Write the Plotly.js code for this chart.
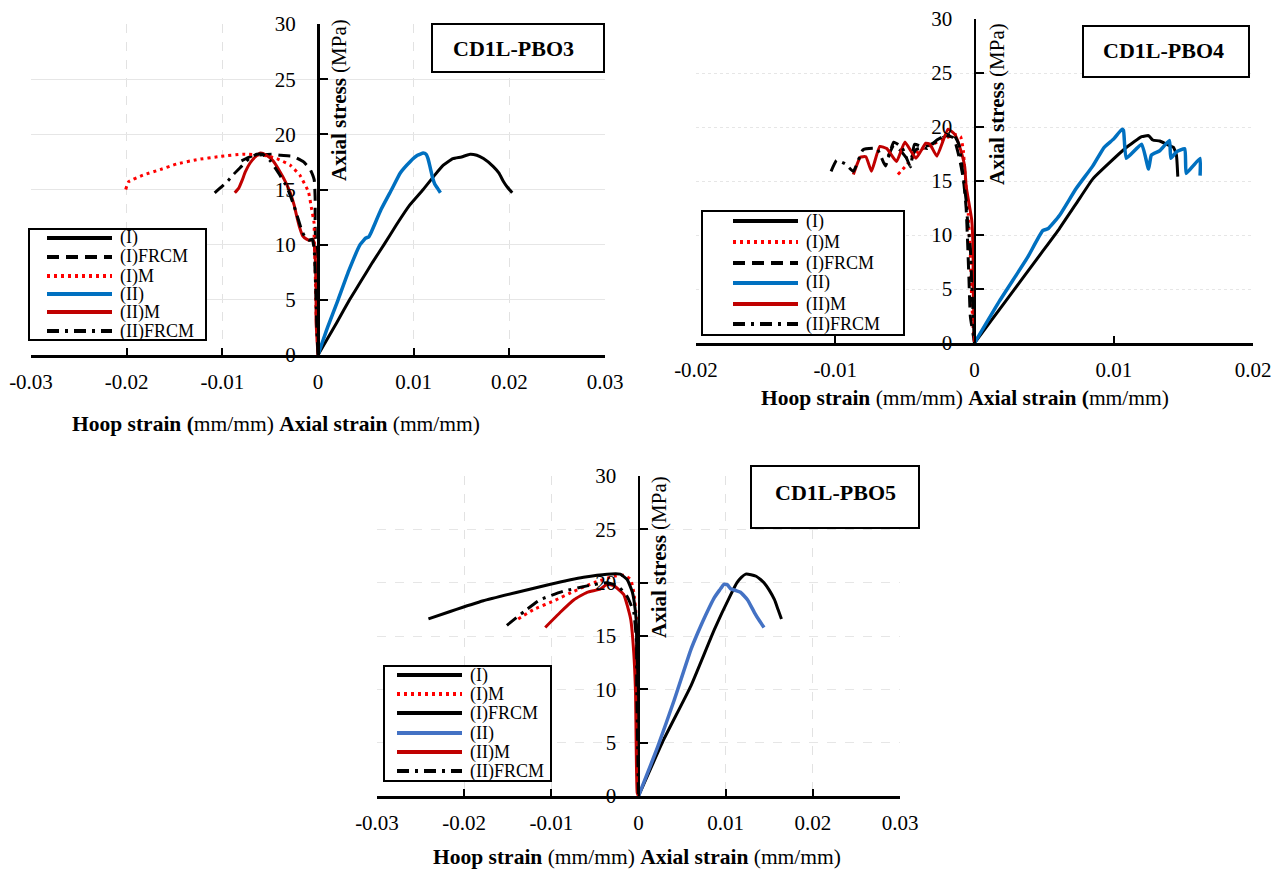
<!DOCTYPE html>
<html>
<head>
<meta charset="utf-8">
<script src="https://cdn.plot.ly/plotly-3.0.1.min.js"></script>
<style>
  html, body { margin: 0; padding: 0; background: #ffffff; }
  #chart { width: 1282px; height: 870px; }
</style>
</head>
<body>
<div id="chart"></div>
<script>
// ---------- tick values and labels ----------
const strainTicks3 = [-0.03, -0.02, -0.01, 0, 0.01, 0.02, 0.03];
const strainTickText3 = ['-0.03', '-0.02', '-0.01', '0', '0.01', '0.02', '0.03'];
const strainTicks2 = [-0.02, -0.01, 0, 0.01, 0.02];
const strainTickText2 = ['-0.02', '-0.01', '0', '0.01', '0.02'];
const stressTicks = [0, 5, 10, 15, 20, 25, 30];
const stressTickText = ['0', '5', '10', '15', '20', '25', '30'];

// ---------- CD1L-PBO3 ----------
const pbo3Legend = ['(I)', '(I)FRCM', '(I)M', '(II)', '(II)M', '(II)FRCM'];
const pbo3_I_x = [0, 0.0010, 0.0020, 0.0033, 0.0045, 0.0057, 0.0069, 0.0082, 0.0096, 0.0110, 0.0122, 0.0131, 0.0141, 0.0150, 0.0159, 0.0166, 0.0173, 0.0183, 0.0189, 0.0194, 0.0198, 0.0203];
const pbo3_I_y = [0, 1.5, 3.0, 5.0, 6.7, 8.4, 10.0, 11.8, 13.6, 15.0, 16.3, 17.2, 17.8, 17.95, 18.2, 18.1, 17.8, 17.1, 16.5, 15.7, 15.2, 14.7];
const pbo3_IFRCM_x = [-0.0080, -0.0070, -0.0058, -0.0048, -0.0039, -0.0026, -0.0015, -0.0008, -0.0004, -0.0003, -0.0003, -0.0002, -0.0001, 0];
const pbo3_IFRCM_y = [17.6, 18.0, 18.15, 18.2, 18.1, 18.0, 17.5, 16.8, 15.9, 14.3, 11.9, 8.0, 4.0, 0];
const pbo3_IM_x = [-0.0201, -0.0198, -0.0183, -0.0165, -0.0148, -0.0127, -0.0102, -0.0078, -0.0057, -0.0043, -0.0029, -0.0019, -0.0010, -0.0007, -0.0004, -0.0004, -0.0003, -0.0002, 0];
const pbo3_IM_y = [15.0, 15.7, 16.3, 16.8, 17.3, 17.7, 18.0, 18.2, 18.1, 17.8, 17.2, 16.3, 14.8, 13.4, 11.9, 10.7, 8.0, 4.0, 0];
const pbo3_II_x = [0, 0.0010, 0.0021, 0.0032, 0.0044, 0.0050, 0.0053, 0.0056, 0.0066, 0.0077, 0.0086, 0.0096, 0.0104, 0.0110, 0.0113, 0.0115, 0.0117, 0.0120, 0.0122, 0.0125, 0.0128];
const pbo3_II_y = [0, 2.5, 5.0, 7.6, 10.0, 10.6, 10.7, 11.2, 13.2, 15.0, 16.5, 17.5, 18.1, 18.3, 18.2, 17.8, 17.1, 16.0, 15.5, 15.1, 14.7];
const pbo3_IIM_x = [-0.0087, -0.0083, -0.0079, -0.0076, -0.0071, -0.0065, -0.0060, -0.0054, -0.0047, -0.0039, -0.0034, -0.0029, -0.0025, -0.0022, -0.0019, -0.0016, -0.0012, -0.0008, -0.0005, -0.0003, -0.0002, -0.0002, 0];
const pbo3_IIM_y = [14.7, 15.1, 15.9, 16.6, 17.4, 18.0, 18.3, 18.1, 17.6, 16.5, 15.7, 14.7, 13.6, 12.5, 11.5, 10.8, 10.5, 10.4, 10.5, 9.0, 6.0, 3.0, 0];
const pbo3_IIFRCM_x = [-0.0108, -0.0100, -0.0094, -0.0088, -0.0080, -0.0072, -0.0064, -0.0058, -0.0050, -0.0042, -0.0035, -0.0030, -0.0025, -0.0021, -0.0017, -0.0013, -0.0009, -0.0006, -0.0004, -0.0003, -0.0002, -0.0001, 0];
const pbo3_IIFRCM_y = [14.7, 15.3, 15.8, 16.4, 17.1, 17.8, 18.2, 18.2, 17.6, 16.6, 15.6, 14.7, 13.5, 12.4, 11.3, 10.6, 10.4, 10.5, 9.6, 7.5, 5.0, 2.0, 0];

// ---------- CD1L-PBO4 ----------
const pbo4Legend = ['(I)', '(I)M', '(I)FRCM', '(II)', '(II)M', '(II)FRCM'];
const pbo4_I_x = [0, 0.0022, 0.0049, 0.0061, 0.0073, 0.0085, 0.0097, 0.0109, 0.0120, 0.0125, 0.0128, 0.0133, 0.0138, 0.0143, 0.0145, 0.0146];
const pbo4_I_y = [0, 3.8, 8.5, 10.6, 12.9, 15.2, 16.7, 18.1, 19.1, 19.2, 18.8, 18.7, 18.4, 18.1, 17.4, 15.4];
const pbo4_IM_x = [-0.0055, -0.0050, -0.0040, -0.0030, -0.0020, -0.0014, -0.0010, -0.0008, -0.0007, -0.00045, -0.0003, -0.0002, -0.0001, 0];
const pbo4_IM_y = [15.6, 16.3, 17.8, 18.4, 19.0, 19.3, 19.1, 17.8, 16.0, 12.0, 8.2, 4.0, 1.4, 0];
const pbo4_IFRCM_x = [-0.0062, -0.0058, -0.0053, -0.0047, -0.0042, -0.0035, -0.0028, -0.0020, -0.0015, -0.0011, -0.0008, -0.0006, -0.0005, -0.0004, -0.0003, 0];
const pbo4_IFRCM_y = [17.3, 18.3, 17.8, 16.9, 17.9, 18.2, 18.6, 19.2, 19.0, 17.2, 15.2, 12.5, 9.5, 6.0, 2.5, 0];
const pbo4_II_x = [0, 0.0018, 0.0038, 0.0049, 0.0053, 0.0061, 0.0073, 0.0085, 0.0093, 0.0100, 0.0106, 0.0107, 0.0109, 0.0120, 0.0125, 0.0127, 0.0133, 0.0140, 0.0141, 0.0145, 0.0151, 0.0152, 0.0157, 0.0162, 0.0162];
const pbo4_II_y = [0, 3.9, 7.9, 10.4, 10.6, 11.8, 14.3, 16.4, 18.1, 18.9, 19.8, 19.7, 17.1, 18.4, 16.1, 17.4, 17.8, 18.75, 17.1, 17.7, 18.0, 15.7, 16.4, 17.1, 15.5];
const pbo4_IIM_x = [-0.0087, -0.0082, -0.0078, -0.0074, -0.0068, -0.0063, -0.0056, -0.0050, -0.0042, -0.0035, -0.0032, -0.0027, -0.0019, -0.0014, -0.0010, -0.0007, -0.0006, -0.0002, -0.0001, -0.0001, 0];
const pbo4_IIM_y = [15.6, 17.2, 17.25, 15.9, 18.2, 18.0, 16.8, 18.6, 17.1, 18.5, 18.4, 17.3, 19.8, 19.3, 17.9, 16.3, 14.5, 11.4, 8.3, 5.2, 0];
const pbo4_IIFRCM_x = [-0.0103, -0.0099, -0.0093, -0.0087, -0.0080, -0.0070, -0.0064, -0.0058, -0.0052, -0.0046, -0.0043, -0.0034, -0.0027, -0.0021, -0.0015, -0.0011, -0.0009, -0.0006, -0.0005, -0.0003, -0.0002, 0];
const pbo4_IIFRCM_y = [15.9, 16.9, 16.6, 15.9, 17.9, 18.0, 16.4, 18.6, 18.1, 16.3, 18.4, 18.0, 18.8, 19.2, 19.3, 18.3, 16.3, 13.2, 11.3, 8.8, 5.5, 0];

// ---------- CD1L-PBO5 ----------
const pbo5Legend = ['(I)', '(I)M', '(I)FRCM', '(II)', '(II)M', '(II)FRCM'];
const pbo5_I_x = [0, 0.0029, 0.0060, 0.0087, 0.0106, 0.0113, 0.0118, 0.0123, 0.0129, 0.0135, 0.0140, 0.0144, 0.0150, 0.0156, 0.0160, 0.0164];
const pbo5_I_y = [0, 5.3, 10.3, 15.6, 18.9, 20.0, 20.5, 20.8, 20.75, 20.6, 20.3, 20.0, 19.3, 18.4, 17.5, 16.6];
const pbo5_IM_x = [-0.0138, -0.0120, -0.0097, -0.0074, -0.0051, -0.0028, -0.0017, -0.0009, -0.00054, -0.00023, -0.0002, -0.0001, 0];
const pbo5_IM_y = [16.6, 17.5, 18.3, 19.2, 20.0, 20.6, 20.7, 20.3, 19.1, 16.6, 12.0, 6.0, 0];
const pbo5_IFRCM_x = [-0.0241, -0.0216, -0.0178, -0.0139, -0.0101, -0.0063, -0.0036, -0.0021, -0.0013, -0.0007, -0.00034, -0.00023, -0.0002, -0.0001, 0];
const pbo5_IFRCM_y = [16.6, 17.3, 18.3, 19.1, 19.85, 20.5, 20.8, 20.8, 20.3, 19.1, 17.2, 15.9, 12.0, 6.0, 0];
const pbo5_II_x = [0, 0.0022, 0.0041, 0.0060, 0.0068, 0.0075, 0.0087, 0.0093, 0.0098, 0.0102, 0.0106, 0.0112, 0.0117, 0.0125, 0.0133, 0.0139, 0.0144];
const pbo5_II_y = [0, 4.6, 9.0, 13.7, 15.3, 16.6, 18.6, 19.3, 19.85, 19.8, 19.4, 19.25, 19.1, 18.4, 17.2, 16.4, 15.8];
const pbo5_IIM_x = [-0.0107, -0.0090, -0.0074, -0.0059, -0.0044, -0.0036, -0.0028, -0.0017, -0.0009, -0.00054, -0.00034, -0.00015, 0];
const pbo5_IIM_y = [15.8, 17.2, 18.4, 19.1, 19.4, 19.85, 19.7, 18.9, 16.6, 13.4, 9.7, 0.3, 0];
const pbo5_IIFRCM_x = [-0.0151, -0.0128, -0.0113, -0.0086, -0.0059, -0.0036, -0.0024, -0.0013, -0.00054, -0.00023, -0.0002, -0.0001, 0];
const pbo5_IIFRCM_y = [16.0, 17.5, 18.4, 19.2, 19.7, 20.0, 19.7, 18.7, 17.2, 14.4, 10.0, 5.0, 0];

// ---------- styling ----------
const SERIF = 'Liberation Serif, Times New Roman, serif';
const W = 1282, H = 870;
const fx = p => p / W;         // page pixel -> paper fraction (x)
const fy = p => 1 - p / H;     // page pixel -> paper fraction (y)

const DASH = '12px,7px';
const DOT = '3px,4px';
const DASHDOT = '12px,6px,3px,6px';

const styleBlack = { color: '#000000', dash: 'solid', width: 3 };
const styleBlackDash = { color: '#000000', dash: DASH, width: 3 };
const styleRedDot = { color: '#ff0000', dash: DOT, width: 3 };
const styleBlue = { color: '#0070c0', dash: 'solid', width: 3.5 };
const styleBlueLight = { color: '#4472c4', dash: 'solid', width: 3.5 };
const styleDarkRed = { color: '#c00000', dash: 'solid', width: 3 };
const styleDashDot = { color: '#000000', dash: DASHDOT, width: 3 };

const panels = [
  {
    title: 'CD1L-PBO3',
    area: { x0: 31, x1: 605, y0: 24, y1: 355 },
    xRange: [-0.03, 0.03], xTicks: strainTicks3, xTickText: strainTickText3,
    vGrid: true, vGridDash: 'dash', hGridDash: 'solid',
    series: [
      { name: pbo3Legend[0], x: pbo3_I_x, y: pbo3_I_y, s: styleBlack },
      { name: pbo3Legend[1], x: pbo3_IFRCM_x, y: pbo3_IFRCM_y, s: styleBlackDash },
      { name: pbo3Legend[2], x: pbo3_IM_x, y: pbo3_IM_y, s: styleRedDot },
      { name: pbo3Legend[3], x: pbo3_II_x, y: pbo3_II_y, s: styleBlue },
      { name: pbo3Legend[4], x: pbo3_IIM_x, y: pbo3_IIM_y, s: styleDarkRed },
      { name: pbo3Legend[5], x: pbo3_IIFRCM_x, y: pbo3_IIFRCM_y, s: styleDashDot }
    ],
    legend: { x0: 29, x1: 206, y0: 229, y1: 340, lx0: 47, lx1: 112, tx: 118, rows: [238, 257, 276, 294, 312, 331] },
    box: { x0: 432, x1: 604, y0: 24, y1: 72, tx: 513, ty: 48 },
    yTitle: { x: 339, y: 100 },
    xTitle: { x: 276, y: 424, text: '<b>Hoop strain (</b>mm/mm) <b>Axial strain</b> (mm/mm)' }
  },
  {
    title: 'CD1L-PBO4',
    area: { x0: 696, x1: 1253, y0: 19, y1: 343 },
    xRange: [-0.02, 0.02], xTicks: strainTicks2, xTickText: strainTickText2,
    vGrid: false, vGridDash: 'dot', hGridDash: 'dot',
    series: [
      { name: pbo4Legend[0], x: pbo4_I_x, y: pbo4_I_y, s: styleBlack },
      { name: pbo4Legend[1], x: pbo4_IM_x, y: pbo4_IM_y, s: styleRedDot },
      { name: pbo4Legend[2], x: pbo4_IFRCM_x, y: pbo4_IFRCM_y, s: styleBlackDash },
      { name: pbo4Legend[3], x: pbo4_II_x, y: pbo4_II_y, s: styleBlue },
      { name: pbo4Legend[4], x: pbo4_IIM_x, y: pbo4_IIM_y, s: styleDarkRed },
      { name: pbo4Legend[5], x: pbo4_IIFRCM_x, y: pbo4_IIFRCM_y, s: styleDashDot }
    ],
    legend: { x0: 702, x1: 904, y0: 211, y1: 335, lx0: 733, lx1: 798, tx: 804, rows: [221, 242, 263, 283, 304, 324] },
    box: { x0: 1083, x1: 1249, y0: 26, y1: 77, tx: 1163, ty: 50 },
    yTitle: { x: 997, y: 104 },
    xTitle: { x: 965, y: 398, text: '<b>Hoop strain</b> (mm/mm) <b>Axial strain (</b>mm/mm)' }
  },
  {
    title: 'CD1L-PBO5',
    area: { x0: 377, x1: 900, y0: 476, y1: 796 },
    xRange: [-0.03, 0.03], xTicks: strainTicks3, xTickText: strainTickText3,
    vGrid: true, vGridDash: 'dash', hGridDash: 'dash',
    series: [
      { name: pbo5Legend[0], x: pbo5_I_x, y: pbo5_I_y, s: styleBlack },
      { name: pbo5Legend[1], x: pbo5_IM_x, y: pbo5_IM_y, s: styleRedDot },
      { name: pbo5Legend[2], x: pbo5_IFRCM_x, y: pbo5_IFRCM_y, s: styleBlack },
      { name: pbo5Legend[3], x: pbo5_II_x, y: pbo5_II_y, s: styleBlueLight },
      { name: pbo5Legend[4], x: pbo5_IIM_x, y: pbo5_IIM_y, s: styleDarkRed },
      { name: pbo5Legend[5], x: pbo5_IIFRCM_x, y: pbo5_IIFRCM_y, s: styleDashDot }
    ],
    legend: { x0: 384, x1: 551, y0: 666, y1: 781, lx0: 397, lx1: 462, tx: 468, rows: [675, 694, 713, 733, 752, 771] },
    box: { x0: 751, x1: 919, y0: 466, y1: 528, tx: 835, ty: 492 },
    yTitle: { x: 659, y: 557 },
    xTitle: { x: 637, y: 857, text: '<b>Hoop strain</b> (mm/mm) <b>Axial strain</b> (mm/mm)' }
  }
];

const traces = [];
const shapes = [];
const annotations = [];
const layout = {
  width: W, height: H, autosize: false,
  margin: { l: 0, r: 0, t: 0, b: 0 },
  paper_bgcolor: '#ffffff', plot_bgcolor: 'rgba(0,0,0,0)',
  showlegend: false,
  font: { family: SERIF, color: '#000000' }
};

panels.forEach((p, i) => {
  const n = i === 0 ? '' : String(i + 1);
  const xa = 'x' + n, ya = 'y' + n;

  layout['xaxis' + n] = {
    domain: [fx(p.area.x0), fx(p.area.x1)], range: p.xRange, anchor: ya,
    showline: true, linecolor: '#000000', linewidth: 2.5,
    ticks: 'inside', ticklen: 7, tickwidth: 2, tickcolor: '#000000',
    tickmode: 'array', tickvals: p.xTicks, ticktext: p.xTickText,
    tickfont: { family: SERIF, size: 21, color: '#000000' }, ticklabelstandoff: 6,
    showgrid: p.vGrid, gridcolor: '#e2e2e2', gridwidth: 1, griddash: p.vGridDash,
    zeroline: false, fixedrange: true
  };
  layout['yaxis' + n] = {
    domain: [fy(p.area.y1), fy(p.area.y0)], range: [0, 30],
    anchor: 'free', position: fx((p.area.x0 + p.area.x1) / 2), side: 'left',
    showline: true, linecolor: '#000000', linewidth: 2.5,
    ticks: 'inside', ticklen: 8, tickwidth: 2, tickcolor: '#000000',
    tickmode: 'array', tickvals: stressTicks, ticktext: stressTickText,
    tickfont: { family: SERIF, size: 21, color: '#000000' }, ticklabelstandoff: 17,
    showgrid: true, gridcolor: '#e6e6e6', gridwidth: 1, griddash: p.hGridDash,
    zeroline: false, fixedrange: true
  };

  p.series.forEach(s => {
    traces.push({
      type: 'scatter', mode: 'lines', name: s.name, x: s.x, y: s.y,
      xaxis: xa, yaxis: ya, showlegend: false, hoverinfo: 'skip',
      line: { color: s.s.color, width: s.s.width, dash: s.s.dash, shape: 'spline', smoothing: 0.4 }
    });
  });

  // legend box with line samples
  const lg = p.legend;
  shapes.push({
    type: 'rect', xref: 'paper', yref: 'paper',
    x0: fx(lg.x0), x1: fx(lg.x1), y0: fy(lg.y1), y1: fy(lg.y0),
    line: { color: '#000000', width: 2 }, fillcolor: '#ffffff', layer: 'above'
  });
  p.series.forEach((s, k) => {
    shapes.push({
      type: 'line', xref: 'paper', yref: 'paper',
      x0: fx(lg.lx0), x1: fx(lg.lx1), y0: fy(lg.rows[k]), y1: fy(lg.rows[k]),
      line: { color: s.s.color, width: 4, dash: s.s.dash }, layer: 'above'
    });
    annotations.push({
      xref: 'paper', yref: 'paper', x: fx(lg.tx), y: fy(lg.rows[k]),
      xanchor: 'left', yanchor: 'middle', showarrow: false,
      text: s.name, font: { family: SERIF, size: 18, color: '#000000' }
    });
  });

  // specimen label box
  const b = p.box;
  shapes.push({
    type: 'rect', xref: 'paper', yref: 'paper',
    x0: fx(b.x0), x1: fx(b.x1), y0: fy(b.y1), y1: fy(b.y0),
    line: { color: '#000000', width: 2 }, fillcolor: '#ffffff', layer: 'above'
  });
  annotations.push({
    xref: 'paper', yref: 'paper', x: fx(b.tx), y: fy(b.ty),
    xanchor: 'center', yanchor: 'middle', showarrow: false,
    text: '<b>' + p.title + '</b>', font: { family: SERIF, size: 22, color: '#000000' }
  });

  // axis titles
  annotations.push({
    xref: 'paper', yref: 'paper', x: fx(p.yTitle.x), y: fy(p.yTitle.y),
    xanchor: 'center', yanchor: 'middle', showarrow: false, textangle: -90,
    text: '<b>Axial stress</b> (MPa)', font: { family: SERIF, size: 21, color: '#000000' }
  });
  annotations.push({
    xref: 'paper', yref: 'paper', x: fx(p.xTitle.x), y: fy(p.xTitle.y),
    xanchor: 'center', yanchor: 'middle', showarrow: false,
    text: p.xTitle.text, font: { family: SERIF, size: 21.5, color: '#000000' }
  });
});

layout.shapes = shapes;
layout.annotations = annotations;

Plotly.newPlot('chart', traces, layout, { staticPlot: true, displayModeBar: false });
</script>
</body>
</html>
